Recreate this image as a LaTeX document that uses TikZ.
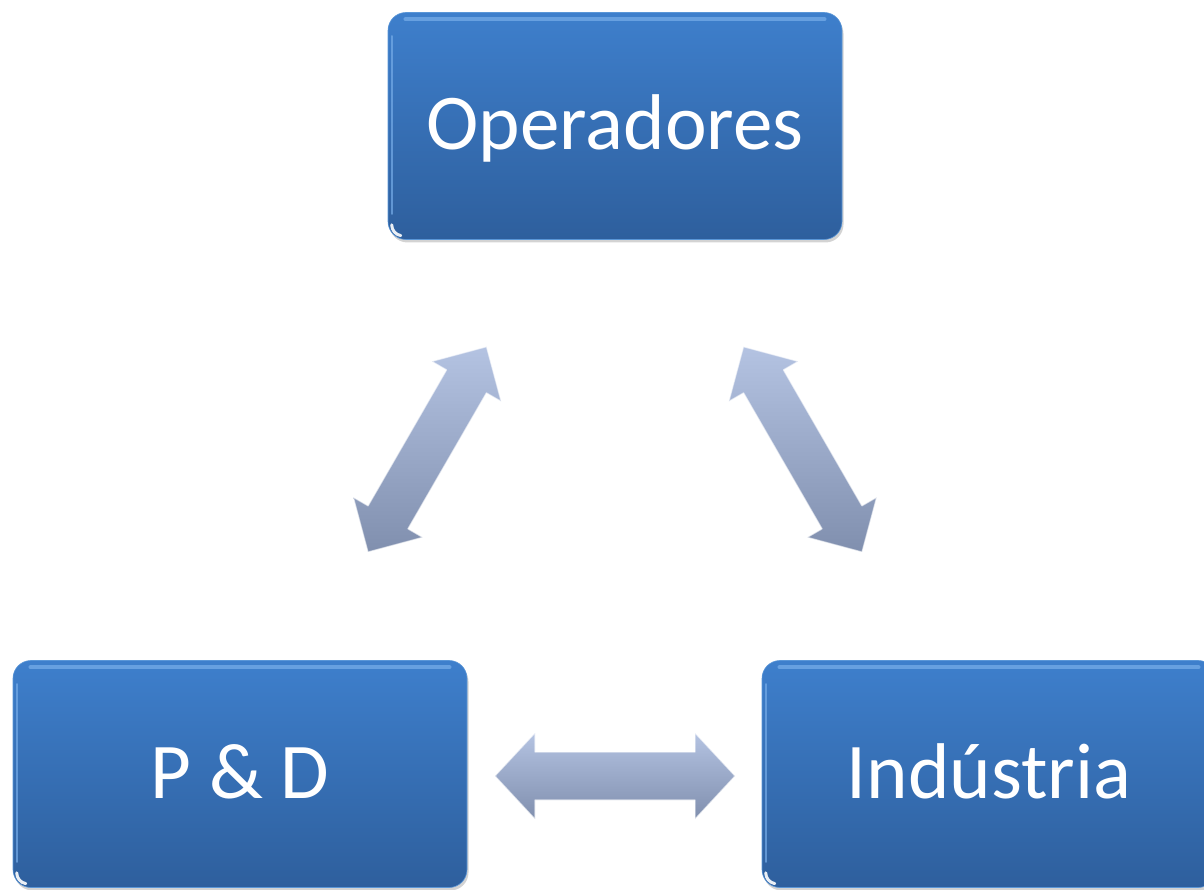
\documentclass[tikz,border=0pt]{standalone}
\usepackage{fontspec}
\setmainfont{Carlito}
\usetikzlibrary{shadows}
\definecolor{boxtop}{RGB}{62,127,204}
\definecolor{boxbot}{RGB}{46,95,157}
\definecolor{boxedge}{RGB}{90,150,215}
\definecolor{arrtop}{RGB}{180,195,226}
\definecolor{arrbot}{RGB}{128,143,174}
\definecolor{glosscol}{RGB}{118,172,232}
\tikzset{
  box/.style={rounded corners=18pt, minimum width=454pt, minimum height=227pt,
    top color=boxtop, bottom color=boxbot, draw=boxedge, line width=0.6pt,
    text=white, font=\fontsize{79}{90}\selectfont, text height=54pt, text depth=6pt,
    inner sep=0pt, drop shadow={shadow xshift=1.5pt, shadow yshift=-3pt, opacity=0.35}},
  arrowfill/.style={top color=arrtop, bottom color=arrbot, draw=white, draw opacity=0.6,
    line width=1.2pt, line join=round},
  glossline/.style={draw=glosscol, line width=4.5pt, line cap=round, opacity=0.75},
  sideline/.style={draw=glosscol, line width=2.5pt, line cap=round, opacity=0.7},
  cornerspot/.style={draw=white, line width=3pt, line cap=round, opacity=0.9},
}
\newcommand\dblarrow[6]{%
  \begin{scope}[shift={(#1)}, rotate=#2]
    \path[arrowfill] (0,0) -- (#4,#5) -- (#4,#6) -- (#3-#4,#6) -- (#3-#4,#5) -- (#3,0)
      -- (#3-#4,-#5) -- (#3-#4,-#6) -- (#4,-#6) -- (#4,-#5) -- cycle;
  \end{scope}}
\begin{document}
\begin{tikzpicture}[x=1pt,y=1pt]
  \useasboundingbox (0,0) rectangle (1204,889);
  \node[box] (op)  at (615,763) {Operadores};
  \node[box] (pd)  at (240,115) {P \& D};
  \node[box] (ind) at (989,115) {Indústria};
  \foreach \n in {op,pd,ind}{
    \draw[glossline] ([xshift=18pt,yshift=-7pt]\n.north west) -- ([xshift=-18pt,yshift=-7pt]\n.north east);
    \draw[sideline] ([xshift=4.5pt,yshift=-24pt]\n.north west) -- ([xshift=4.5pt,yshift=26pt]\n.south west);
    \draw[cornerspot] ([xshift=4pt,yshift=15pt]\n.south west) arc[start angle=180, end angle=260, radius=11pt];
  }
  \coordinate (ldiag) at (368,337);
  \coordinate (rdiag) at (862,337);
  \coordinate (hor)   at (495,113);
  \dblarrow{ldiag}{60}{237}{40}{40}{23}
  \dblarrow{rdiag}{120}{237}{40}{40}{23}
  \dblarrow{hor}{0}{240}{40}{43}{24}
\end{tikzpicture}
\end{document}
